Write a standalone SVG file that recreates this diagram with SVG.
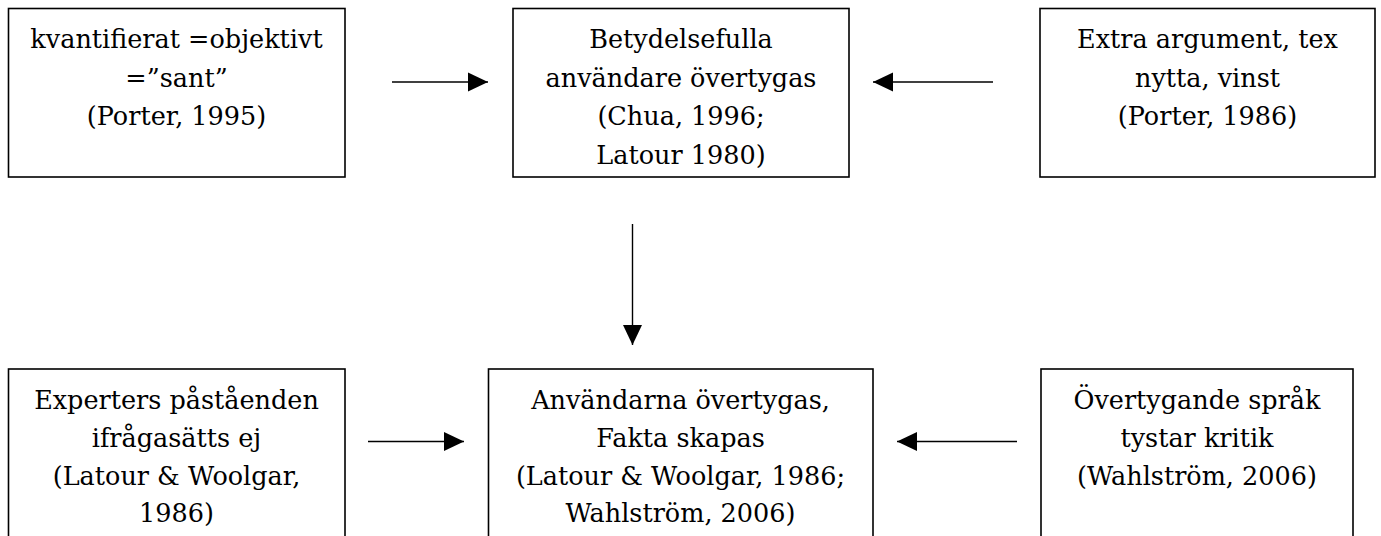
<svg xmlns="http://www.w3.org/2000/svg" width="1381" height="536" viewBox="0 0 1381 536">
<style>
.box{fill:#fff;stroke:#000;stroke-width:1.6}
.t{font-family:'DejaVu Serif',serif;font-size:25.5px;fill:#000;text-anchor:middle}
.c{stroke:#000;stroke-width:1.4;fill:none}
</style>
<defs>
<marker id="ah" markerUnits="userSpaceOnUse" markerWidth="20" markerHeight="20" viewBox="0 0 20 20" refX="20" refY="10" orient="auto">
<path d="M0,0.5 L20,10 L0,19.5 Z" fill="#000"/>
</marker>
</defs>
<rect width="1381" height="536" fill="#fff"/>
<g id="n1">
<rect class="box" x="8.5" y="8.5" width="336.5" height="168.5"/>
<text class="t" x="176.5" y="48">kvantifierat =objektivt<tspan x="176.5" dy="38.5">=”sant”</tspan><tspan x="176.5" dy="38.5">(Porter, 1995)</tspan></text>
</g>
<g id="n2">
<rect class="box" x="513" y="8.5" width="336" height="168.5"/>
<text class="t" x="681" y="48">Betydelsefulla<tspan x="681" dy="38.5">användare övertygas</tspan><tspan x="681" dy="38.5">(Chua, 1996;</tspan><tspan x="681" dy="38.5">Latour 1980)</tspan></text>
</g>
<g id="n3">
<rect class="box" x="1040" y="8.5" width="335" height="168.5"/>
<text class="t" x="1207.5" y="48">Extra argument, tex<tspan x="1207.5" dy="38.5">nytta, vinst</tspan><tspan x="1207.5" dy="38.5">(Porter, 1986)</tspan></text>
</g>
<g id="n4">
<rect class="box" x="8.5" y="369" width="336.5" height="200"/>
<text class="t" x="176.5" y="409">Experters påståenden<tspan x="176.5" dy="37.8">ifrågasätts ej</tspan><tspan x="176.5" dy="37.8">(Latour &amp; Woolgar,</tspan><tspan x="176.5" dy="37.8">1986)</tspan></text>
</g>
<g id="n5">
<rect class="box" x="488.5" y="369" width="384.5" height="200"/>
<text class="t" x="680.5" y="409">Användarna övertygas,<tspan x="680.5" dy="37.8">Fakta skapas</tspan><tspan x="680.5" dy="37.8">(Latour &amp; Woolgar, 1986;</tspan><tspan x="680.5" dy="37.8">Wahlström, 2006)</tspan></text>
</g>
<g id="n6">
<rect class="box" x="1041" y="369" width="312" height="200"/>
<text class="t" x="1197" y="409">Övertygande språk<tspan x="1197" dy="37.8">tystar kritik</tspan><tspan x="1197" dy="37.8">(Wahlström, 2006)</tspan></text>
</g>
<g id="connectors">
<line class="c" x1="392" y1="82" x2="488" y2="82" marker-end="url(#ah)"/>
<line class="c" x1="993" y1="82" x2="873" y2="82" marker-end="url(#ah)"/>
<line class="c" x1="632.5" y1="224" x2="632.5" y2="345" marker-end="url(#ah)"/>
<line class="c" x1="368" y1="441.5" x2="464" y2="441.5" marker-end="url(#ah)"/>
<line class="c" x1="1017" y1="441.5" x2="897" y2="441.5" marker-end="url(#ah)"/>
</g>
</svg>
